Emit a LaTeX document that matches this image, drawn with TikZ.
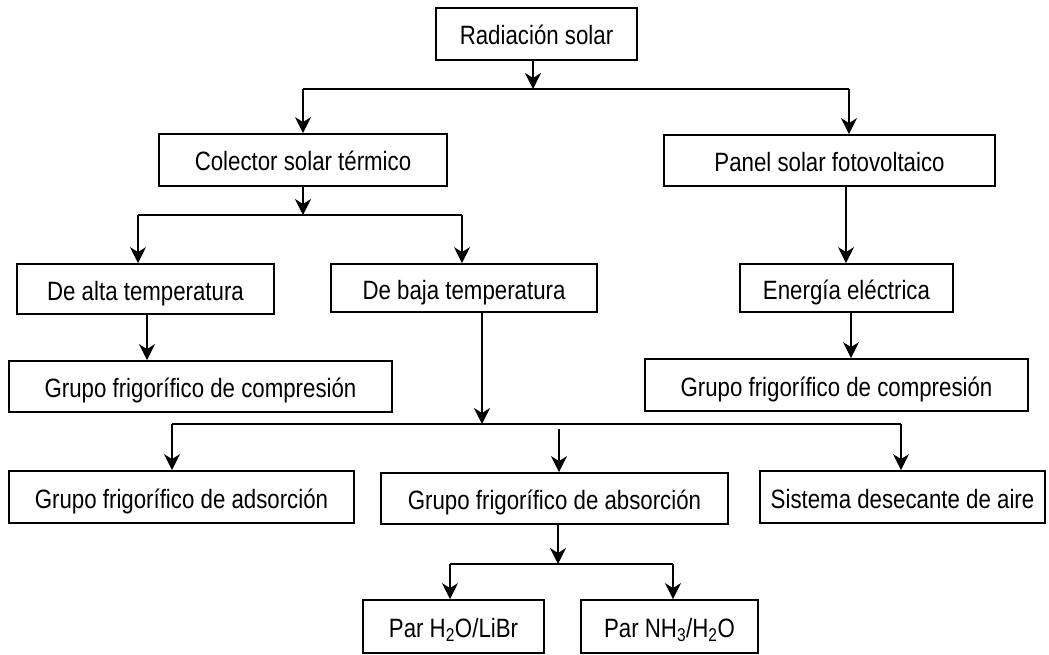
\documentclass[tikz,border=0pt]{standalone}
\usepackage{fontspec}
\setmainfont[FakeStretch=0.84]{Liberation Sans}
\usetikzlibrary{arrows.meta}
\begin{document}
\begin{tikzpicture}[x=1pt,y=-1pt,
  box/.style={draw, line width=1.8pt, inner sep=0pt, text height=22pt, text depth=0pt,
    font=\fontsize{26.5}{30}\selectfont},
  conn/.style={line width=1.8pt},
  arr/.style={conn, -{Stealth[length=16pt,width=16pt,inset=5pt]}}]
\useasboundingbox (0,0) rectangle (1049,655);
% boxes
\node[box, minimum width=201pt, minimum height=52pt] (rad) at (536.5,34) {Radiación solar};
\node[box, minimum width=288pt, minimum height=52pt] (col) at (303,160) {Colector solar térmico};
\node[box, minimum width=331pt, minimum height=51pt] (pan) at (829.5,160.5) {Panel solar fotovoltaico};
\node[box, minimum width=257pt, minimum height=50pt] (alta) at (145.5,289) {De alta temperatura};
\node[box, minimum width=266pt, minimum height=48pt] (baja) at (464,288) {De baja temperatura};
\node[box, minimum width=213pt, minimum height=48pt] (ene) at (846.5,288) {Energía eléctrica};
\node[box, minimum width=383pt, minimum height=51pt] (compL) at (200.5,386.5) {Grupo frigorífico de compresión};
\node[box, minimum width=383pt, minimum height=52pt] (compR) at (836.5,385) {Grupo frigorífico de compresión};
\node[box, minimum width=345pt, minimum height=52pt] (ads) at (181.5,497) {Grupo frigorífico de adsorción};
\node[box, minimum width=347pt, minimum height=51pt] (abs) at (554.5,498.5) {Grupo frigorífico de absorción};
\node[box, minimum width=285pt, minimum height=52pt] (sis) at (902.5,497) {Sistema desecante de aire};
\node[box, minimum width=181pt, minimum height=53pt] (p1) at (453.5,626.5) {Par H\textsubscript{2}O/LiBr};
\node[box, minimum width=177pt, minimum height=53pt] (p2) at (669.5,626.5) {Par NH\textsubscript{3}/H\textsubscript{2}O};
% junction coordinates
\coordinate (j1) at (533,89); \coordinate (j1l) at (303,89); \coordinate (j1r) at (849,89);
\coordinate (j2) at (303,215); \coordinate (j2l) at (138,215); \coordinate (j2r) at (462,215);
\coordinate (xa) at (147,0); \coordinate (xp) at (846,0); \coordinate (xe) at (851,0);
\coordinate (j3) at (482,424); \coordinate (j3l) at (172,424); \coordinate (j3r) at (901,424);
\coordinate (m) at (559,429);
\coordinate (j4) at (558,564); \coordinate (j4l) at (450,564); \coordinate (j4r) at (673,564);
% connectors
\draw[arr] (rad.south -| j1) -- (j1);
\draw[conn] (j1l) -- (j1r);
\draw[arr] (j1l) -- (col.north -| j1l);
\draw[arr] (j1r) -- (pan.north -| j1r);
\draw[arr] (col.south -| j2) -- (j2);
\draw[conn] (j2l) -- (j2r);
\draw[arr] (j2l) -- (alta.north -| j2l);
\draw[arr] (j2r) -- (baja.north -| j2r);
\draw[arr] (alta.south -| xa) -- (compL.north -| xa);
\draw[arr] (pan.south -| xp) -- (ene.north -| xp);
\draw[arr] (ene.south -| xe) -- (compR.north -| xe);
\draw[arr] (baja.south -| j3) -- (j3);
\draw[conn] (j3l) -- (j3r);
\draw[arr] (j3l) -- (ads.north -| j3l);
\draw[arr] (j3r) -- (sis.north -| j3r);
\draw[arr] (m) -- (abs.north -| m);
\draw[arr] (abs.south -| j4) -- (j4);
\draw[conn] (j4l) -- (j4r);
\draw[arr] (j4l) -- (p1.north -| j4l);
\draw[arr] (j4r) -- (p2.north -| j4r);
\end{tikzpicture}
\end{document}
